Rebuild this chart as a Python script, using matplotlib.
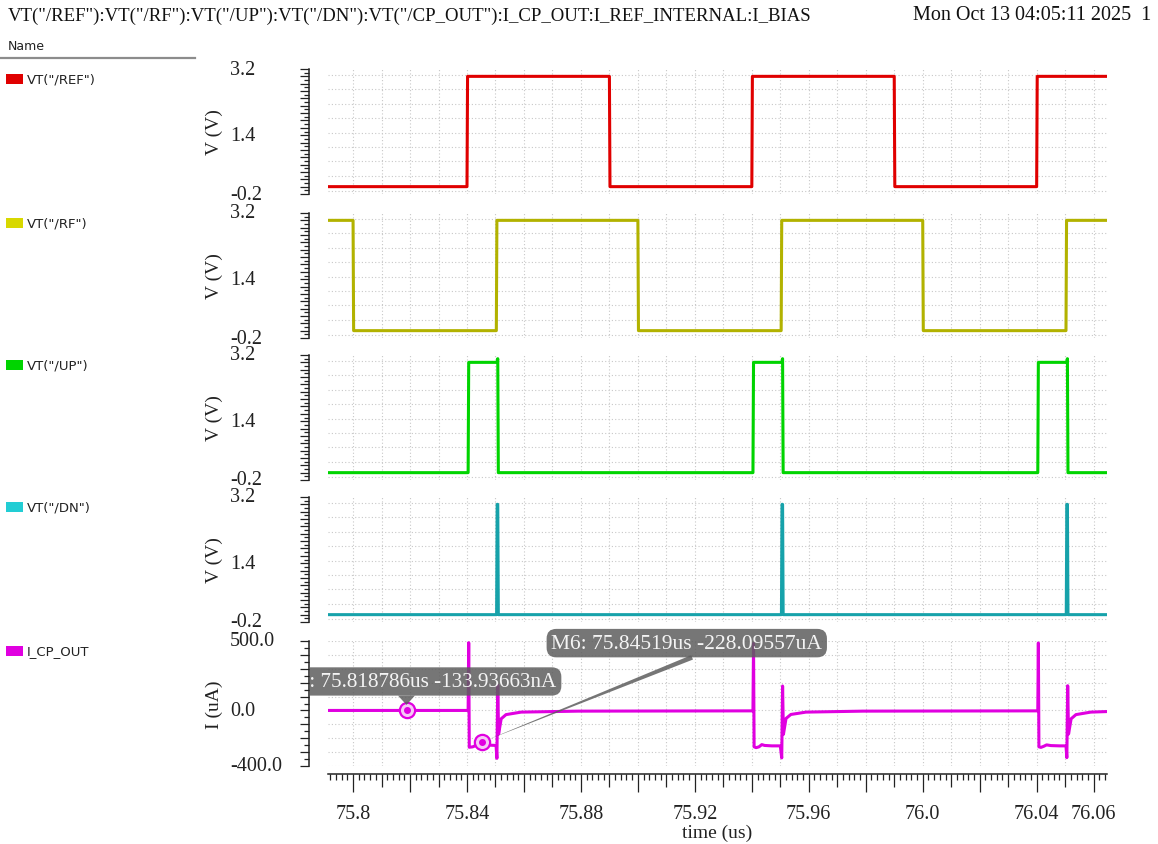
import matplotlib
matplotlib.use("Agg")
import matplotlib.pyplot as plt
import numpy as np
from matplotlib.patches import Rectangle
from matplotlib.lines import Line2D
from matplotlib.transforms import Bbox, blended_transform_factory

# ---- waveform data (time in us) ----
T_START, T_STOP = 75.7912, 76.0647

REF_T = [75.7912, 75.8400, 75.8402, 75.8900, 75.8902, 75.9400, 75.9402,
         75.9900, 75.9902, 76.0400, 76.0402, 76.0647]
REF_V = [0.0, 0.0, 3.0, 3.0, 0.0, 0.0, 3.0, 3.0, 0.0, 0.0, 3.0, 3.0]

RF_T = [75.7912, 75.8000, 75.8002, 75.8503, 75.8505, 75.9000, 75.9002,
        75.9503, 75.9505, 76.0000, 76.0002, 76.0503, 76.0505, 76.0647]
RF_V = [3.0, 3.0, 0.0, 0.0, 3.0, 3.0, 0.0, 0.0, 3.0, 3.0, 0.0, 0.0, 3.0, 3.0]

UP_T = [75.7912, 75.8404, 75.8406, 75.8506, 75.8508, 75.8510,
        75.9404, 75.9406, 75.9506, 75.9508, 75.9510,
        76.0404, 76.0406, 76.0506, 76.0508, 76.0510, 76.0647]
UP_V = [0.0, 0.0, 3.0, 3.0, 3.1, 0.0,
        0.0, 3.0, 3.0, 3.1, 0.0,
        0.0, 3.0, 3.0, 3.1, 0.0, 0.0]

DN_T = [75.7912, 75.8504, 75.8506, 75.8508, 75.8510,
        75.9504, 75.9506, 75.9508, 75.9510,
        76.0504, 76.0506, 76.0508, 76.0510, 76.0647]
DN_V = [0.0, 0.0, 3.0, 3.0, 0.0,
        0.0, 3.0, 3.0, 0.0,
        0.0, 3.0, 3.0, 0.0, 0.0]

CP_T = [75.7912, 75.8404, 75.8406, 75.8408, 75.8420, 75.8432, 75.8440, 75.8452,
        75.8465, 75.8480, 75.8502, 75.8505, 75.8508, 75.8511, 75.8520, 75.8537,
        75.8590, 75.8790, 75.9404,
        75.9406, 75.9408, 75.9415, 75.9425, 75.9435, 75.9445, 75.9470, 75.9500,
        75.9505, 75.9508, 75.9511, 75.9520, 75.9537, 75.9590, 75.9790, 76.0404,
        76.0406, 76.0408, 76.0415, 76.0425, 76.0435, 76.0450, 76.0480, 76.0503,
        76.0506, 76.0509, 76.0512, 76.0521, 76.0538, 76.0590, 76.0647]
CP_I = [0.0, 0.0, 488, -265, -262, -252, -240, -228,
        -240, -250, -252, -345, 182, -170, -60, -30,
        -12, -5, -3,
        482, -262, -268, -262, -246, -252, -255, -255,
        -342, 176, -172, -58, -29, -12, -5, -3,
        486, -262, -266, -258, -248, -253, -255, -255,
        -340, 178, -170, -60, -30, -12, -8]

MARK_T = [75.818786, 75.84519]
MARK_I = [-0.13393663, -228.09557]
MARK_TXT = ["M5: 75.818786us -133.93663nA", "M6: 75.84519us -228.09557uA"]

NAMES = ['VT("/REF")', 'VT("/RF")', 'VT("/UP")', 'VT("/DN")', 'I_CP_OUT']
TRACE_COLORS = ["#e00000", "#b2b200", "#00d400", "#16a2aa", "#e000e0"]
KEY_COLORS = ["#e00000", "#d8d800", "#00d400", "#22cdd4", "#e000e0"]

V_TICKS = ["-0.2", "1.4", "3.2"]
I_TICKS = ["-400.0", "0.0", "500.0"]
X_LABEL_POS = [75.80, 75.84, 75.88, 75.92, 75.96, 76.00, 76.04, 76.06]
X_LABEL_TXT = ["75.8", "75.84", "75.88", "75.92", "75.96", "76.0", "76.04", "76.06"]

TITLE = 'VT("/REF"):VT("/RF"):VT("/UP"):VT("/DN"):VT("/CP_OUT"):I_CP_OUT:I_REF_INTERNAL:I_BIAS'
STAMP = "Mon Oct 13 04:05:11 2025  1"

# ---- layout (pixels) ----
W, H = 1158, 845
X0, X1 = 328, 1107
PANEL_H = 125
TOPS = [70, 214, 356, 498, 642]
SERIF = "Liberation Serif"
GRID_C = "#c8c8c8"
BOX_C = "#5e5e5e"

plt.rcParams["font.family"] = SERIF

fig = plt.figure(figsize=(W / 100, H / 100), dpi=100)
fig.patch.set_facecolor("white")


def fx(px):
    return px / W


def fy(py):
    return 1 - py / H


fig.text(fx(8), fy(16), TITLE, fontsize=13.5, va="center", ha="left", color="#111")
fig.text(fx(1151), fy(16), STAMP, fontsize=14.5, va="center", ha="right", color="#111")
fig.text(fx(8), fy(47), "Name", fontsize=9, family="DejaVu Sans", va="center", color="#222")
fig.add_artist(Line2D([fx(0), fx(195)], [fy(59), fy(59)], color="#8c8c8c", lw=1.6))

series = [(REF_T, REF_V), (RF_T, RF_V), (UP_T, UP_V), (DN_T, DN_V), (CP_T, CP_I)]
grid_t = np.round(np.arange(75.80, 76.0601, 0.01), 2)
grid_v = [3.045, 2.66, 2.25, 1.87, 1.47, 1.08, 0.69, 0.29, -0.11]
grid_i = np.arange(500, -401, -100)

axes = []
for k, (t, v) in enumerate(series):
    top = TOPS[k]
    ax = fig.add_axes([fx(X0), fy(top + PANEL_H), (X1 - X0) / W, PANEL_H / H])
    axes.append(ax)
    is_cur = k == 4
    lo, hi = (-400, 500) if is_cur else (-0.2, 3.2)
    ax.set_xlim(T_START, T_STOP)
    ax.set_ylim(lo, hi)
    for s in ["top", "right", "bottom"]:
        ax.spines[s].set_visible(False)
    ax.spines["left"].set_position(("axes", -19 / (X1 - X0)))
    ax.spines["left"].set_linewidth(1.1)
    ax.spines["left"].set_color("#222")

    # dotted grid
    for g in grid_t:
        ax.axvline(g, color=GRID_C, lw=0.8, ls=(0, (1, 2)), zorder=0)
    for g in (grid_i if is_cur else grid_v):
        ax.axhline(g, color=GRID_C, lw=0.8, ls=(0, (1, 2)), zorder=0)

    # ruler on the left
    if is_cur:
        ruler = list(range(-400, 501, 50))
        lens = [6.5 if r % 100 == 0 else 3.6 for r in ruler]
        labs = I_TICKS
    else:
        ruler = list(np.round(np.arange(-0.2, 3.201, 0.1), 1))
        lens = [6.5 if i % 2 == 0 else 3.6 for i in range(len(ruler))]
        labs = V_TICKS
    ax.set_yticks(ruler)
    ax.set_yticklabels([])
    ax.tick_params(axis="y", direction="out", width=0.9, color="#222", length=4)
    for tk, ln in zip(ax.yaxis.get_major_ticks(), lens):
        tk.tick1line.set_markersize(ln)
    trans = blended_transform_factory(fig.transFigure, ax.transData)
    for lab in labs:
        ax.text(fx(230), float(lab), lab, transform=trans, ha="left", va="center",
                fontsize=14.5, color="#222")
    ax.text(fx(214), 0.5, "I (uA)" if is_cur else "V (V)", rotation=90,
            transform=blended_transform_factory(fig.transFigure, ax.transAxes),
            ha="center", va="center", fontsize=14, color="#222")

    ax.set_xticks([])
    ax.plot(t, v, color=TRACE_COLORS[k], lw=2.2, zorder=2)

    # name key on the left
    fig.add_artist(Rectangle((fx(6), fy(top + 15)), 17 / W, 10 / H,
                             transform=fig.transFigure, color=KEY_COLORS[k], lw=0))
    fig.text(fx(27), fy(top + 10), NAMES[k], fontsize=9.5, family="DejaVu Sans",
             va="center", ha="left", color="#222")

# bottom time axis
axc = axes[4]
axc.spines["bottom"].set_visible(True)
axc.spines["bottom"].set_position(("outward", 8 * 0.72))
axc.spines["bottom"].set_linewidth(1.1)
axc.spines["bottom"].set_color("#222")
xt = np.round(np.arange(75.792, 76.0645, 0.002), 3)
axc.set_xticks(xt)
xlabs = []
for val in xt:
    hit = [s for p, s in zip(X_LABEL_POS, X_LABEL_TXT) if abs(p - val) < 1e-6]
    xlabs.append(hit[0] if hit else "")
axc.set_xticklabels(xlabs)
axc.tick_params(axis="x", direction="out", width=0.9, color="#222", length=13, pad=8.5,
                labelsize=14.5, labelcolor="#222")
for tk, val in zip(axc.xaxis.get_major_ticks(), xt):
    m = int(round(val * 1000))
    if m % 20 == 0:
        ln = 13
    elif m % 10 == 0:
        ln = 9.4
    else:
        ln = 4.3
    tk.tick1line.set_markersize(ln)
fig.text(fx(717), fy(833), "time (us)", fontsize=14, ha="center", va="center", color="#222")

# markers and their labels
for t, i in zip(MARK_T, MARK_I):
    axc.plot(t, i, "o", ms=11, mfc="#f6c8f6", mec="#e000e0", mew=1.6, zorder=4)
    axc.plot(t, i, "o", ms=4, mfc="#e000e0", mec="#e000e0", zorder=4)

box = dict(boxstyle="round,pad=0.22,rounding_size=0.45", fc=BOX_C, ec="none", alpha=0.85)
a5 = axc.annotate(MARK_TXT[0], xy=(MARK_T[0], MARK_I[0]), xytext=(12, 29),
                  textcoords="offset pixels", ha="center", va="center", fontsize=15.2,
                  color="#f4f4f4", bbox=box, zorder=5, annotation_clip=False,
                  arrowprops=dict(arrowstyle="wedge,tail_width=0.8", fc=BOX_C, ec="none",
                                  alpha=0.85, relpos=(0.456, 0.5), shrinkA=0, shrinkB=4))
a5.set_clip_box(Bbox([[310, 0], [W, H]]))
a5.set_clip_on(True)

axc.annotate(MARK_TXT[1], xy=(MARK_T[1], MARK_I[1]), xytext=(205, 99),
             textcoords="offset pixels", ha="center", va="center", fontsize=15.5,
             color="#f4f4f4", bbox=box, zorder=5, annotation_clip=False,
             arrowprops=dict(arrowstyle="wedge,tail_width=0.22", fc=BOX_C, ec="none",
                             alpha=0.85, relpos=(0.65, 0.5), shrinkA=0, shrinkB=3))

fig.savefig("out.png", dpi=100)
